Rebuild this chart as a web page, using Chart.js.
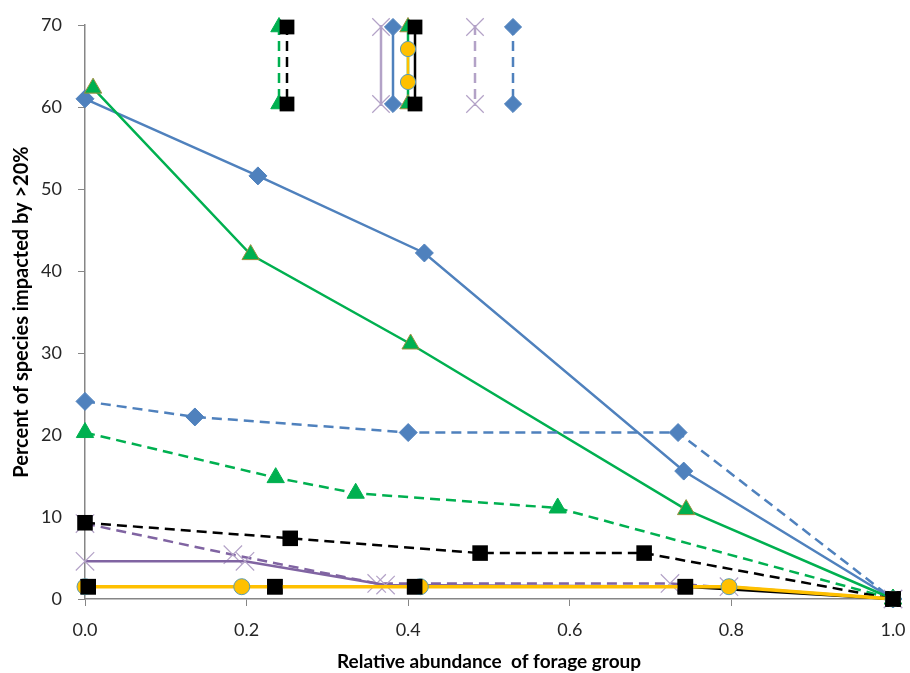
<!DOCTYPE html>
<html>
<head>
<meta charset="utf-8">
<script src="https://cdn.jsdelivr.net/npm/chart.js@4.4.1/dist/chart.umd.min.js"></script>
<style>
  body { margin: 0; background: #fff; }
</style>
</head>
<body>
<canvas id="chart" width="910" height="673"></canvas>
<script>
// values
const xTicks = [0, 0.2, 0.4, 0.6, 0.8, 1.0]

const blueSolidX = [0, 0.214, 0.42, 0.741, 1.0]
const blueSolidY = [61.0, 51.6, 42.2, 15.6, 0]

const greenSolidX = [0.01, 0.205, 0.403, 0.744, 1.0]
const greenSolidY = [62.3, 42.0, 31.1, 10.9, 0]

const blueDashX = [0, 0.136, 0.40, 0.734, 1.0]
const blueDashY = [24.1, 22.2, 20.3, 20.3, 0]

const greenDashX = [0, 0.236, 0.335, 0.585, 1.0]
const greenDashY = [20.3, 14.8, 12.9, 11.1, 0]

const blackDashX = [0, 0.254, 0.489, 0.692, 1.0]
const blackDashY = [9.3, 7.4, 5.6, 5.6, 0]

const purpleSolidX = [0, 0.198, 0.372, 0.797, 1.0]
const purpleSolidY = [4.6, 4.6, 1.7, 1.5, 0]

const purpleDashX = [0, 0.183, 0.361, 0.724, 1.0]
const purpleDashY = [9.2, 5.4, 1.9, 1.9, 0]

const yellowX = [0, 0.194, 0.415, 0.797, 1.0]
const yellowY = [1.5, 1.5, 1.5, 1.5, 0]

const blackSolidX = [0.004, 0.235, 0.408, 0.743, 1.0]
const blackSolidY = [1.5, 1.5, 1.5, 1.5, 0]

const pts = (xs, ys) => xs.map((x, i) => ({x: x, y: ys[i]}))

const BLUE = '#4F81BD', GREEN = '#00B050', PURPLE = '#8064A2', XPURPLE = '#B3A2C7', YELLOW = '#FFC000'
const DASH = [10, 6]

// first in the list is drawn on top
const datasets = [
  {data: pts(yellowX, yellowY), borderColor: YELLOW, borderWidth: 3.5, pointStyle: 'circle', pointRadius: 8,
    pointBackgroundColor: YELLOW, pointBorderColor: '#5B9BAF', pointBorderWidth: 1, legendX: 408, legendInset: 22},
  {data: pts(blackSolidX, blackSolidY), borderColor: '#000', borderWidth: 2.5, pointStyle: 'rect', pointRadius: 11,
    pointBackgroundColor: '#000', pointBorderColor: '#000', pointBorderWidth: 0, legendX: 415, pointsOnTop: true},
  {data: pts(purpleSolidX, purpleSolidY), borderColor: PURPLE, borderWidth: 2.5, pointStyle: 'crossRot', pointRadius: 13,
    pointBorderColor: XPURPLE, pointBorderWidth: 1.2, legendX: 381, legendLine: XPURPLE},
  {data: pts(blackDashX, blackDashY), borderColor: '#000', borderDash: DASH, borderWidth: 2.5, pointStyle: 'rect', pointRadius: 11,
    pointBackgroundColor: '#000', pointBorderColor: '#000', pointBorderWidth: 0, legendX: 287},
  {data: pts(purpleDashX, purpleDashY), borderColor: PURPLE, borderDash: DASH, borderWidth: 2.5, pointStyle: 'crossRot', pointRadius: 13,
    pointBorderColor: XPURPLE, pointBorderWidth: 1.2, legendX: 475, legendLine: XPURPLE},
  {data: pts(greenDashX, greenDashY), borderColor: GREEN, borderDash: DASH, borderWidth: 2.5, pointStyle: 'triangle', pointRadius: 10,
    pointBackgroundColor: GREEN, pointBorderColor: GREEN, pointBorderWidth: 1, legendX: 279},
  {data: pts(blueDashX, blueDashY), borderColor: BLUE, borderDash: DASH, borderWidth: 2.5, pointStyle: 'rectRot', pointRadius: 9,
    pointBackgroundColor: BLUE, pointBorderColor: BLUE, pointBorderWidth: 1, legendX: 513},
  {data: pts(greenSolidX, greenSolidY), borderColor: GREEN, borderWidth: 2.5, pointStyle: 'triangle', pointRadius: 10,
    pointBackgroundColor: GREEN, pointBorderColor: '#9C8F3E', pointBorderWidth: 1, legendX: 408},
  {data: pts(blueSolidX, blueSolidY), borderColor: BLUE, borderWidth: 2.5, pointStyle: 'rectRot', pointRadius: 9,
    pointBackgroundColor: BLUE, pointBorderColor: BLUE, pointBorderWidth: 1, legendX: 393}
]
datasets.forEach(d => { d.clip = false; d.tension = 0; d.fill = false; d.pointHoverRadius = d.pointRadius })

// black squares sit over the yellow circles, but the yellow line sits over the black one
const markersOnTop = {
  id: 'markersOnTop',
  afterDatasetsDraw(chart) {
    chart.data.datasets.forEach((d, i) => {
      if (!d.pointsOnTop) return
      chart.getDatasetMeta(i).data.forEach(p => p.draw(chart.ctx, chart.chartArea))
    })
  }
}

// the legend in the figure is squashed into vertical samples above the lines
const verticalLegend = {
  id: 'verticalLegend',
  afterDraw(chart) {
    const ctx = chart.ctx
    const top = 25, bottom = 106
    chart.data.datasets.slice().reverse().forEach(d => {
      const x = d.legendX
      const inset = d.legendInset || 0
      ctx.save()
      ctx.strokeStyle = d.legendLine || d.borderColor
      ctx.lineWidth = 2.5
      ctx.setLineDash(d.borderDash || [])
      ctx.beginPath()
      ctx.moveTo(x, top + inset)
      ctx.lineTo(x, bottom - inset)
      ctx.stroke()
      ctx.setLineDash([])
      const opts = {pointStyle: d.pointStyle, radius: d.pointRadius * 0.95, rotation: 0,
        borderWidth: d.pointBorderWidth}
      ctx.fillStyle = d.pointBackgroundColor || 'transparent'
      ctx.strokeStyle = d.pointBorderColor
      ctx.lineWidth = d.pointBorderWidth
      Chart.helpers.drawPoint(ctx, opts, x, top + inset + 2)
      ctx.fillStyle = d.pointBackgroundColor || 'transparent'
      ctx.strokeStyle = d.pointBorderColor
      Chart.helpers.drawPoint(ctx, opts, x, bottom - inset - 2)
      ctx.restore()
    })
  }
}

const tickFont = {family: 'Lato, "Open Sans", sans-serif', size: 18}
const xTitleFont = {family: 'Lato, "Open Sans", sans-serif', size: 19, weight: 'bold'}
const yTitleFont = {family: 'Lato, "Open Sans", sans-serif', size: 20, weight: 'bold'}

new Chart(document.getElementById('chart'), {
  type: 'line',
  data: {datasets: datasets},
  options: {
    responsive: false,
    animation: false,
    layout: {padding: {left: 0, right: 17, top: 25, bottom: 0}},
    plugins: {legend: {display: false}, tooltip: {enabled: false}},
    scales: {
      x: {
        type: 'linear', min: 0, max: 1,
        afterBuildTicks: s => { s.ticks = xTicks.map(v => ({value: v})) },
        afterFit: s => { s.height = 74; s.paddingRight = 0; s.paddingLeft = 0 },
        grid: {drawOnChartArea: false, drawTicks: true, tickLength: 7, color: '#868686'},
        border: {color: '#868686', width: 1.5},
        ticks: {font: tickFont, color: '#262626', padding: 13, callback: v => v.toFixed(1), maxRotation: 0},
        title: {display: true, text: 'Relative abundance  of forage group', font: xTitleFont, color: '#000', padding: {top: 4, bottom: 0}}
      },
      y: {
        min: 0, max: 70,
        afterFit: s => { s.width = 85; s.paddingTop = 0; s.paddingBottom = 0 },
        grid: {drawOnChartArea: false, drawTicks: true, tickLength: 7, color: '#868686'},
        border: {color: '#868686', width: 1.5},
        ticks: {stepSize: 10, font: tickFont, color: '#262626', padding: 16},
        title: {display: true, text: 'Percent of species impacted by >20%', font: yTitleFont, color: '#000', padding: {top: 10, bottom: 0}}
      }
    }
  },
  plugins: [markersOnTop, verticalLegend]
})
</script>
</body>
</html>
